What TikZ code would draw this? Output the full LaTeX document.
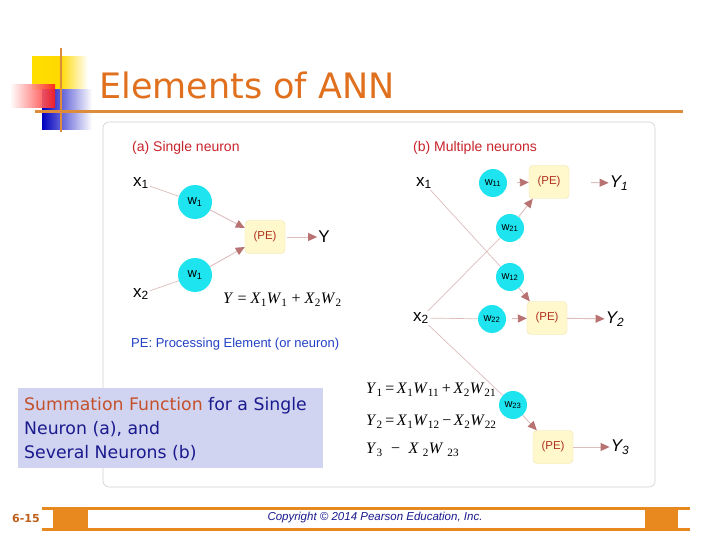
\documentclass[tikz,border=0pt]{standalone}
\usepackage{fontspec}
\setmainfont{Liberation Sans}
\newfontfamily\slidefont{DejaVu Sans}
\newfontfamily\eqfont{Liberation Serif}
\usepackage{tikz}
\usetikzlibrary{positioning,arrows.meta,calc}
\definecolor{annorange}{HTML}{E0701E}
\definecolor{annbar}{HTML}{E8891F}
\definecolor{annrule}{HTML}{DC8C3A}
\definecolor{anncyan}{HTML}{1EE4F0}
\definecolor{annpe}{HTML}{FFF8CC}
\definecolor{annpeedge}{HTML}{F0E2A8}
\definecolor{annred}{HTML}{C8242C}
\definecolor{annpetext}{HTML}{B0301E}
\definecolor{annline}{HTML}{DDBDBD}
\definecolor{annarrow}{HTML}{B87272}
\definecolor{annblue}{HTML}{2242C4}
\definecolor{annnavy}{HTML}{1A1A8E}
\definecolor{annsum}{HTML}{C4502C}
\definecolor{annbox}{HTML}{D0D4F0}
\newcommand{\vs}[2]{\textit{#1}\textsubscript{#2}}
\tikzset{
    weight/.style={circle,fill=anncyan,inner sep=0pt,minimum size=34pt,font=\fontsize{13}{13}\selectfont},
    weightb/.style={weight,minimum size=28pt,font=\fontsize{11}{11}\selectfont},
    pe/.style={rectangle,rounded corners=4pt,draw=annpeedge,fill=annpe,minimum width=40pt,minimum height=33pt,inner sep=0pt,text=annpetext,font=\fontsize{11.5}{11.5}\selectfont},
    sig/.style={inner sep=1pt,font=\fontsize{17}{17}\selectfont},
    outlbl/.style={inner sep=1pt,font=\fontsize{17}{17}\selectfont},
    wire/.style={draw=annline,line width=0.7pt},
    feed/.style={draw=annline,line width=0.9pt,-{Triangle[length=9pt,width=8pt,color=annarrow]}},
    panelcap/.style={anchor=west,inner sep=0pt,text=annred,font=\fontsize{14}{14}\selectfont},
    eqn/.style={anchor=west,inner sep=0pt,font=\eqfont\fontsize{16}{16}\selectfont},
    framebox/.style={draw=black!18,line width=0.6pt,rounded corners=6pt},
}

\begin{document}
\begin{tikzpicture}[x=1pt,y=-1pt]
    \useasboundingbox[fill=white] (0,0) rectangle (720,540);

    % logo squares and rules
    \shade[left color=yellow!75!orange,right color=white,middle color=yellow!70!orange] (32,57) rectangle (88,90);
    \shade[left color=blue!75!black,right color=white] (42,90) rectangle (92,130);
    \shade[left color=white,right color=red!90,opacity=0.9] (10,85) rectangle (55,108);
    \draw[annrule,line width=3pt] (35,112) -- (683,112);
    \draw[annrule,line width=2.2pt] (61,48) -- (61,132);
    \node[anchor=base west,inner sep=0pt,text=annorange,font=\slidefont\fontsize{35}{35}\selectfont] (ttl) at (99,99) {Elements of ANN};

    \draw[framebox] (103,122) rectangle (655,487);

    % (a) single neuron
    \node[panelcap] (capa) at (132,148) {(a) Single neuron};
    \node[sig] (ax1) at (141,183) {x\textsubscript{1}};
    \node[sig] (ax2) at (141,294) {x\textsubscript{2}};
    \node[weight] (aw1) at (195,202) {w\textsubscript{1}};
    \node[weight] (aw2) at (195,275) {w\textsubscript{1}};
    \node[pe] (ape) at (265,237) {(PE)};
    \node[outlbl] (ay) at (324,237) {Y};
    \node[eqn] (aeq) at (223,300) {\textit{Y} = \vs{X}{1}\vs{W}{1} + \vs{X}{2}\vs{W}{2}};
    \node[panelcap,text=annblue,font=\fontsize{13}{13}\selectfont] (pedef) at (131,344) {PE: Processing Element (or neuron)};

    \path
    (ax1) edge[wire] (aw1)
    (ax2) edge[wire] (aw2)
    (aw1) edge[feed] ([yshift=9pt]ape.west)
    (aw2) edge[feed] ([yshift=-10pt]ape.west)
    (ape) edge[feed,shorten <=2pt] (ay);

    % (b) multiple neurons
    \node[panelcap] (capb) at (413,148) {(b) Multiple neurons};
    \node[sig] (bx1) at (424,183) {x\textsubscript{1}};
    \node[sig] (bx2) at (421,318) {x\textsubscript{2}};
    \node[weightb] (bw11) at (493,183) {w\textsubscript{11}};
    \node[weightb] (bw21) at (510,228) {w\textsubscript{21}};
    \node[weightb] (bw12) at (510,277) {w\textsubscript{12}};
    \node[weightb] (bw22) at (492,319) {w\textsubscript{22}};
    \node[weightb] (bw23) at (513,405) {w\textsubscript{23}};
    \node[pe] (bpe1) at (549,182) {(PE)};
    \node[pe] (bpe2) at (547,318) {(PE)};
    \node[pe] (bpe3) at (553,447) {(PE)};
    \node[outlbl] (by1) at (619,183) {\textit{Y\textsubscript{1}}};
    \node[outlbl] (by2) at (615,319) {\textit{Y\textsubscript{2}}};
    \node[outlbl] (by3) at (620,447) {\textit{Y\textsubscript{3}}};

    \path
    (bx1) edge[wire] (bw12)
    (bx2) edge[wire] (bw21)
    (bx2) edge[wire] (bw22)
    (bx2) edge[wire] (bw23)
    (bw11) edge[feed,shorten <=10pt] (bpe1)
    (bw21) edge[feed] ([xshift=4pt]bpe1.south west)
    (bw12) edge[feed] ([xshift=3pt]bpe2.north west)
    (bw22) edge[feed,shorten <=6pt] (bpe2)
    (bw23) edge[feed] ([xshift=4pt]bpe3.north west)
    (bpe1) edge[feed,shorten <=22pt] (by1)
    (bpe2) edge[feed] (by2)
    (bpe3) edge[feed] (by3);

    \node[eqn] (beq1) at (366,390) {\vs{Y}{1}\,=\,\vs{X}{1}\vs{W}{11}\,+\,\vs{X}{2}\vs{W}{21}};
    \node[eqn] (beq2) at (366,422) {\vs{Y}{2}\,=\,\vs{X}{1}\vs{W}{12}\,−\,\vs{X}{2}\vs{W}{22}};
    \node[eqn] (beq3) at (366,450) {\vs{Y}{3} \;−\; \textit{X} \textsubscript{2}\textit{W} \textsubscript{23}};

    % summary box
    \node[anchor=north west,fill=annbox,minimum width=305pt,minimum height=80pt,inner sep=0pt] (sumbox) at (18,388) {};
    \node[anchor=north west,align=left,inner sep=0pt,text=annnavy,font=\slidefont\fontsize{17.3}{24}\selectfont] (sumtxt) at (24,397)
        {\textcolor{annsum}{Summation Function} for a Single\\Neuron (a), and\\Several Neurons (b)};

    % footer
    \fill[annbar] (53,508) rectangle (88,529);
    \fill[annbar] (645,508) rectangle (678,529);
    \draw[annbar,line width=3pt] (42,508) -- (690,508);
    \draw[annbar,line width=3pt] (42,529) -- (690,529);
    \node[text=annorange!85!black,font=\slidefont\bfseries\fontsize{11}{11}\selectfont] (pgno) at (26,518) {6-15};
    \node[text=annnavy,font=\itshape\fontsize{11.5}{12}\selectfont] (copy) at (375,518) {Copyright © 2014 Pearson Education, Inc.};
\end{tikzpicture}
\end{document}
